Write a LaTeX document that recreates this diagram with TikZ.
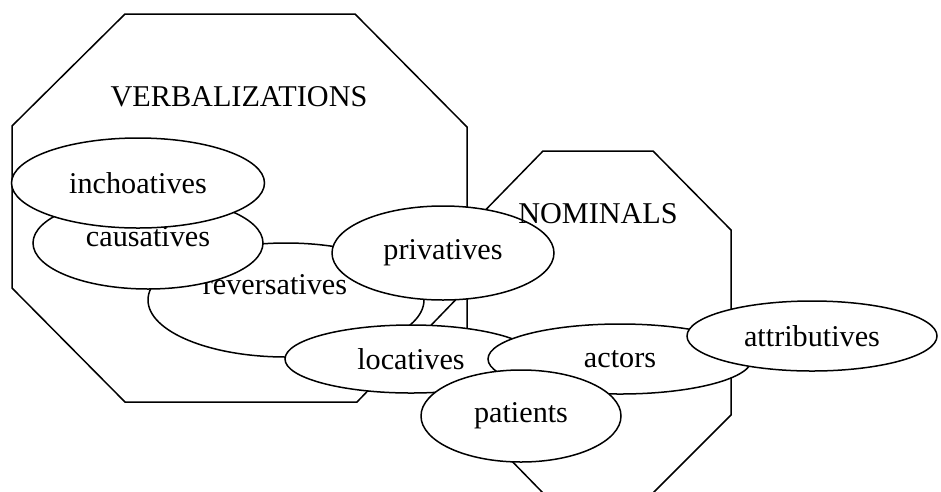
\documentclass[tikz,border=0pt]{standalone}
\usepackage{fontspec}
\setmainfont{Liberation Serif}
\usetikzlibrary{shapes.geometric}
\newcommand\lblfont{\fontsize{30.2}{36}\selectfont}
\begin{document}
\begin{tikzpicture}[x=1pt,y=-1pt,line width=1.5pt,
  bubble/.style={ellipse,draw,fill=white,inner sep=0pt,font=\lblfont},
  lbl/.style={inner sep=0pt,font=\lblfont}]
\clip (0,0) rectangle (941,491);
% VERBALIZATIONS octagon
\draw (125,14) -- (355,14) -- (467,127) -- (467,288) -- (357,402) -- (125,402) -- (12,288) -- (12,126) -- cycle;
% NOMINALS octagon
\draw (543,151) -- (653,151) -- (731,230) -- (731,415) -- (653,493) -- (543,493) -- (467,415) -- (467,229) -- cycle;
\node[lbl] (verb) at (239,97) {VERBALIZATIONS};
\node[bubble,minimum width=276,minimum height=114] (rev) at (286,300) {};
\node[lbl] (revt) at (275,285) {reversatives};
\node[bubble,minimum width=230,minimum height=92] (caus) at (148,243) {};
\node[lbl] (caust) at (148,237) {causatives};
\node[bubble,minimum width=253,minimum height=90] (inch) at (138,183) {inchoatives};
\node[bubble,minimum width=222,minimum height=94] (priv) at (443,253) {privatives};
\node[bubble,minimum width=252,minimum height=68] (loc) at (411,359) {locatives};
\node[bubble,minimum width=264,minimum height=70] (act) at (620,359) {actors};
\node[bubble,minimum width=200,minimum height=92] (pat) at (521,416) {patients};
\node[bubble,minimum width=250,minimum height=70] (attr) at (812,336) {attributives};
\node[lbl] (nom) at (598,214) {NOMINALS};
\end{tikzpicture}
\end{document}
